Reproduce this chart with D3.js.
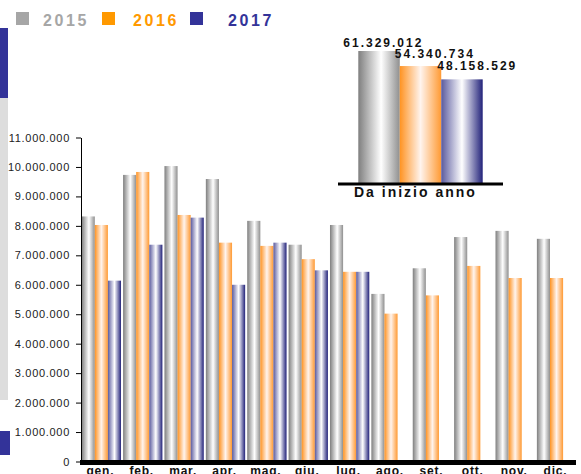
<!DOCTYPE html>
<html>
<head>
<meta charset="utf-8">
<script src="https://cdn.jsdelivr.net/npm/d3@7"></script>
<style>
  body { margin: 0; background: #fff; }
  svg { display: block; font-family: Arial, "Liberation Sans", sans-serif; }
</style>
</head>
<body>
<svg id="chart" width="581" height="474"></svg>
<script>
// Monthly values per year.
const months = ["gen.", "feb.", "mar.", "apr.", "mag.", "giu.", "lug.", "ago.", "set.", "ott.", "nov.", "dic."];
const years = ["2015", "2016", "2017"];
const v2015 = [8320000, 9730000, 10030000, 9590000, 8170000, 7360000, 8030000, 5690000, 6560000, 7620000, 7830000, 7560000];
const v2016 = [8030000, 9830000, 8370000, 7430000, 7320000, 6870000, 6440000, 5020000, 5640000, 6640000, 6230000, 6230000];
const v2017 = [6140000, 7360000, 8280000, 6000000, 7430000, 6490000, 6440000, null, null, null, null, null];
// Year-to-date totals (inset).
const ytd = [61329012, 54340734, 48158529];
const yTicks = [0, 1e6, 2e6, 3e6, 4e6, 5e6, 6e6, 7e6, 8e6, 9e6, 10e6, 11e6];

const colors = { "2015": "#a6a6a6", "2016": "#ff9900", "2017": "#333399" };
const series = [v2015, v2016, v2017];

const it = d3.formatLocale({ decimal: ",", thousands: ".", grouping: [3], currency: ["€", ""] });
const fmt = it.format(",d");

const svg = d3.select("#chart");
const defs = svg.append("defs");

// Horizontal "cylinder" gradients, one per year.
const gradStops = {
  "2015": [[0, "#7f7f7f"], [0.55, "#ffffff"], [1, "#8f8f8f"]],
  "2016": [[0, "#ff9322"], [0.5, "#fff4ee"], [1, "#ff9a33"]],
  "2017": [[0, "#5a5a9e"], [0.5, "#ffffff"], [1, "#22227a"]],
};
for (const yr of years) {
  const lg = defs.append("linearGradient")
    .attr("id", "g" + yr)
    .attr("x1", 0).attr("x2", 1).attr("y1", 0).attr("y2", 0);
  for (const [o, c] of gradStops[yr]) {
    lg.append("stop").attr("offset", o).attr("stop-color", c);
  }
}

// Left decorations.
svg.append("rect").attr("x", 0).attr("y", 98).attr("width", 8).attr("height", 302).attr("fill", "#dddddd");
svg.append("rect").attr("x", 0).attr("y", 28).attr("width", 8).attr("height", 70).attr("fill", "#333399");
svg.append("rect").attr("x", 0).attr("y", 431).attr("width", 10).attr("height", 24).attr("fill", "#333399");

// Legend.
const legendX = [16, 102, 190];
const legendTextX = [43, 133, 228];
years.forEach((yr, i) => {
  svg.append("rect")
    .attr("x", legendX[i]).attr("y", 12)
    .attr("width", 13).attr("height", 13)
    .attr("fill", colors[yr]);
  svg.append("text")
    .attr("x", legendTextX[i]).attr("y", 25.5)
    .attr("fill", colors[yr])
    .attr("font-size", 16).attr("font-weight", "bold")
    .attr("letter-spacing", 2.6)
    .text(yr);
});

// Main chart scales.
const x = d3.scaleBand().domain(months).range([81.7, 576.2]).paddingInner(0.05).paddingOuter(0);
const xs = d3.scaleBand().domain(years).range([0, x.bandwidth()]).padding(0);
const y = d3.scaleLinear().domain([0, 11e6]).range([461.5, 137.5]);

const bars = svg.append("g");
series.forEach((vals, si) => {
  const yr = years[si];
  bars.selectAll(null)
    .data(vals.map((v, i) => ({ m: months[i], v })).filter(d => d.v != null))
    .enter()
    .append("rect")
    .attr("x", d => x(d.m) + xs(yr))
    .attr("y", d => y(d.v))
    .attr("width", xs.bandwidth())
    .attr("height", d => y(0) - y(d.v))
    .attr("fill", `url(#g${yr})`);
});

// Y axis.
const yAxis = svg.append("g")
  .attr("transform", "translate(81,0)")
  .call(d3.axisLeft(y).tickValues(yTicks).tickFormat(fmt).tickSize(5).tickSizeOuter(0).tickPadding(6));
yAxis.select(".domain").attr("stroke", "#000");
yAxis.selectAll(".tick line").attr("stroke", "#000");
yAxis.selectAll(".tick text")
  .attr("font-size", 11)
  .attr("letter-spacing", 0.7)
  .attr("fill", "#222")
  .attr("font-family", "Arial, 'Liberation Sans', sans-serif");

// Thick x baseline.
svg.append("line")
  .attr("x1", 80).attr("x2", 576)
  .attr("y1", 462.5).attr("y2", 462.5)
  .attr("stroke", "#000").attr("stroke-width", 5);

// Month labels.
svg.append("g").selectAll("text")
  .data(months)
  .enter()
  .append("text")
  .attr("x", d => x(d) + x.bandwidth() / 2 - 1)
  .attr("y", 474.5)
  .attr("text-anchor", "middle")
  .attr("font-size", 12).attr("font-weight", "bold")
  .attr("letter-spacing", 0.8)
  .attr("fill", "#111")
  .text(d => d);

// Inset: year-to-date totals.
const ix = d3.scaleBand().domain(years).range([358.3, 482.7]).padding(0);
const iy = d3.scaleLinear().domain([0, ytd[0]]).range([183, 51]);
const inset = svg.append("g");
inset.selectAll("rect")
  .data(ytd)
  .enter()
  .append("rect")
  .attr("x", (d, i) => ix(years[i]))
  .attr("y", d => iy(d))
  .attr("width", ix.bandwidth())
  .attr("height", d => iy(0) - iy(d))
  .attr("fill", (d, i) => `url(#g${years[i]})`);

const labelDx = [-15, -5, -4];
const labelDy = [4.5, 8.5, 9.5];
inset.selectAll("text.val")
  .data(ytd)
  .enter()
  .append("text")
  .attr("class", "val")
  .attr("x", (d, i) => ix(years[i]) + labelDx[i])
  .attr("y", (d, i) => iy(d) - labelDy[i])
  .attr("font-size", 12).attr("font-weight", "bold")
  .attr("letter-spacing", 2)
  .attr("fill", "#111")
  .text(d => fmt(d));

inset.append("line")
  .attr("x1", 338).attr("x2", 503)
  .attr("y1", 184).attr("y2", 184)
  .attr("stroke", "#000").attr("stroke-width", 3);

inset.append("text")
  .attr("x", 354).attr("y", 196.5)
  .attr("font-size", 14).attr("font-weight", "bold")
  .attr("letter-spacing", 2)
  .attr("fill", "#111")
  .text("Da inizio anno");
</script>
</body>
</html>
